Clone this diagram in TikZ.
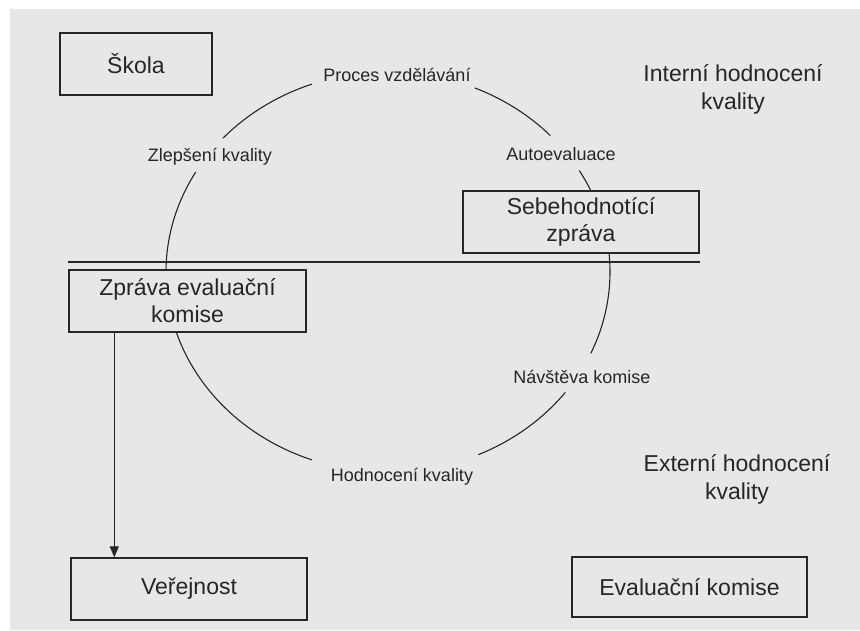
\documentclass[tikz,border=0pt]{standalone}
\usepackage{fontspec}
\setmainfont{Liberation Sans}
\usetikzlibrary{arrows.meta}
\definecolor{pagebg}{RGB}{231,231,233}
\definecolor{ink}{RGB}{38,38,40}
\begin{document}
\begin{tikzpicture}[x=1pt,y=1pt,yscale=-1,
  box/.style={draw=ink,line width=1.4pt,text=ink,align=center,inner sep=0pt,
    font=\fontsize{23}{27}\selectfont},
  big/.style={text=ink,align=center,font=\fontsize{23}{28}\selectfont},
  small/.style={text=ink,align=center,font=\fontsize{18}{21}\selectfont},
  cyc/.style={draw=ink,line width=1.1pt}]
\useasboundingbox (0,0) rectangle (860,630);
\fill[white] (0,0) rectangle (860,630);
\fill[pagebg] (10,9) rectangle (860,630);
% boxes
\node[box,minimum width=152pt,minimum height=62pt] (skola) at (136,64) {Škola};
\node[box,minimum width=237pt,minimum height=62pt] (zprava) at (187.5,301) {Zpráva evaluační\\komise};
\node[box,minimum width=236pt,minimum height=62pt] (verejnost) at (189,589) {Veřejnost};
\node[box,minimum width=236pt,minimum height=62pt] (sebe) at (581,222) {Sebehodnotící\\zpráva};
\node[box,minimum width=235pt,minimum height=60pt] (komise) at (689.5,587) {Evaluační komise};
% headings
\node[big] (interni) at (733,89) {Interní hodnocení\\kvality};
\node[big] (externi) at (737,479) {Externí hodnocení\\kvality};
% cycle labels
\node[small] (proces) at (397,75) {Proces vzdělávání};
\node[small] (zlepseni) at (210,157) {Zlepšení kvality};
\node[small] (auto) at (561,154) {Autoevaluace};
\node[small] (navsteva) at (582,377) {Návštěva komise};
\node[small] (hodnoceni) at (402,477) {Hodnocení kvality};
% separator
\coordinate (sepL) at (68,262);
\coordinate (sepR) at (700,262);
\draw[ink,line width=1.2pt] (sepL) -- (sepR);
% cycle arcs
\coordinate (c) at (388,272);
\draw[cyc] (c) ++(162.5:222 and 200) arc[start angle=162.5,end angle=110,x radius=222,y radius=200];
\draw[cyc] (c) ++(66:222 and 200) arc[start angle=66,end angle=37,x radius=222,y radius=200];
\draw[cyc] (c) ++(24:222 and 200) arc[start angle=24,end angle=-5.5,x radius=222,y radius=200];
\draw[cyc] (c) ++(-24:222 and 200) arc[start angle=-24,end angle=-30.5,x radius=222,y radius=200];
\draw[cyc] (c) ++(-43:222 and 200) arc[start angle=-43,end angle=-67,x radius=222,y radius=200];
\draw[cyc] (c) ++(-110:222 and 200) arc[start angle=-110,end angle=-138,x radius=222,y radius=200];
\draw[cyc] (c) ++(-150:222 and 200) arc[start angle=-150,end angle=-179.4,x radius=222,y radius=200];
% arrow to public
\draw[ink,line width=1.2pt,-{Triangle[length=11pt,width=9pt]}] (zprava.south west) ++(46,0) coordinate (aS) -- (aS |- verejnost.north);
\end{tikzpicture}
\end{document}
